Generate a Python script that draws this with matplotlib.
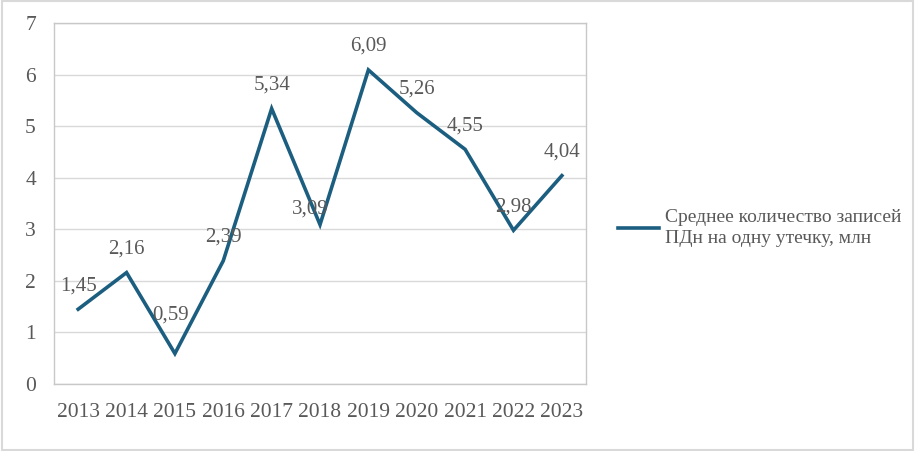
import matplotlib
matplotlib.use("Agg")
import matplotlib.pyplot as plt
from matplotlib.patches import Rectangle

years = ["2013", "2014", "2015", "2016", "2017", "2018", "2019", "2020", "2021", "2022", "2023"]
records = [1.45, 2.16, 0.59, 2.39, 5.34, 3.09, 6.09, 5.26, 4.55, 2.98, 4.04]
series_name = "Среднее количество записей\nПДн на одну утечку, млн"

plt.rcParams["font.family"] = ["Liberation Serif", "DejaVu Serif"]
text_color = "#595959"
line_color = "#1B5E80"

fig = plt.figure(figsize=(9.15, 4.51), dpi=100)
ax = fig.add_axes([0.059, 0.1486, 0.5815, 0.8004])

x = list(range(len(years)))
ax.plot(x, records, color=line_color, lw=2.6, solid_joinstyle="miter", label=series_name)

# подписи значений (часть из них сдвинута, как на исходнике)
offsets = {2: (-3, 28), 5: (-7, 11)}
for i, v in enumerate(records):
    dx, dy = offsets.get(i, (0, 17))
    ax.annotate(f"{v:.2f}".replace(".", ","), (i, v), xytext=(dx, dy),
                textcoords="offset points", ha="center", va="center",
                fontsize=15, color=text_color)

ax.set_xlim(-0.5, len(years) - 0.5)
ax.set_ylim(0, 7)
ax.set_xticks(x)
ax.set_xticklabels(years)
ax.set_yticks(range(0, 8))
ax.tick_params(axis="both", length=0, labelsize=15.5, labelcolor=text_color)
ax.tick_params(axis="x", pad=14)
ax.tick_params(axis="y", pad=13)
ax.grid(axis="y", color="#D9D9D9", lw=1)
ax.set_axisbelow(True)
for s in ax.spines.values():
    s.set_color("#C8C8C8")
    s.set_linewidth(1)

leg = fig.legend(loc="center left", bbox_to_anchor=(618 / 915, 1 - 228 / 451),
                 frameon=False, fontsize=14, handlelength=2.1, handletextpad=0.3,
                 borderpad=0, borderaxespad=0, labelcolor=text_color)
for t in leg.get_texts():
    t.set_linespacing(1.35)

fig.patches.append(Rectangle((0.002, 0.003), 0.996, 0.994, transform=fig.transFigure,
                             fill=False, edgecolor="#D9D9D9", lw=1.5))

fig.savefig("out.png", dpi=100)
